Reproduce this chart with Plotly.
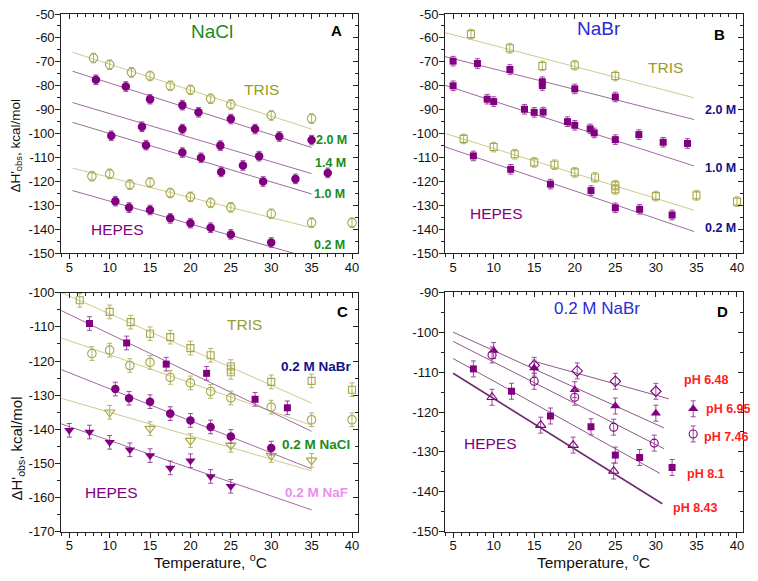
import plotly.graph_objects as go

W, H = 758, 581
OFF = 8  # the page body margin shifts the figure by this many px
FONT = "Arial, Liberation Sans, sans-serif"

# ---------------- data ----------------
x_ticks = [5, 10, 15, 20, 25, 30, 35, 40]
y_ticks_AB = [-150, -140, -130, -120, -110, -100, -90, -80, -70, -60, -50]
y_ticks_C = [-170, -160, -150, -140, -130, -120, -110, -100]
y_ticks_D = [-150, -140, -130, -120, -110, -100, -90]

# Panel A : NaCl
A_tris20_T = [8.0, 10, 12.7, 15, 17.5, 20, 22.5, 25, 30, 35]
A_tris20 = [-68.4, -71.2, -74.4, -75.9, -80.0, -81.7, -85.4, -87.8, -92.4, -93.7]
A_hep20_T = [8.3, 12, 15, 19, 21, 25, 28, 31, 35]
A_hep20 = [-77.5, -80.3, -85.6, -88.1, -91.1, -93.9, -98.1, -101.2, -102.7]
A_hep14_T = [14, 19, 23.7, 26.5, 28.5, 37]
A_hep14 = [-97.1, -98.1, -105.0, -113.3, -109.4, -116.4]
A_hep10_T = [10.2, 14.5, 19, 21.3, 23.8, 29, 33]
A_hep10 = [-100.9, -104.8, -107.9, -110.1, -116.0, -120.0, -118.9]
A_tris02_T = [7.8, 10, 12.5, 15, 17.5, 20, 22.5, 25, 30, 35, 40]
A_tris02 = [-117.8, -116.8, -121.3, -120.4, -124.8, -126.4, -128.9, -130.8, -133.5, -137.2, -137.2]
A_hep02_T = [10.7, 12.4, 15, 17.5, 20, 22.5, 25, 30]
A_hep02 = [-128.2, -130.9, -131.9, -135.4, -137.4, -139.3, -142.1, -145.5]
A_fit_T = [5.4, 35]
A_fit_tris20 = [-66.0, -98.1]
A_fit_hep20 = [-73.9, -105.8]
A_fit_hep14 = [-87.0, -116.7]
A_fit_hep10 = [-95.3, -125.2]
A_fit_tris02 = [-114.4, -139.3]
A_fit_hep02 = [-123.8, -152.1]

# Panel B : NaBr
B_tris20_T = [7.2, 12, 16, 20, 25]
B_tris20 = [-58.4, -64.3, -71.7, -71.4, -75.9]
B_hep20_T = [5, 8, 12, 16, 16, 20, 25]
B_hep20 = [-69.7, -70.7, -73.2, -78.3, -79.9, -81.3, -84.7]
B_hep10_T = [5, 9.2, 10, 13.8, 15, 16.1, 19.1, 20, 21.9, 22.4, 25, 27.9, 30.9, 33.9]
B_hep10 = [-80.0, -85.6, -86.6, -89.8, -91.1, -91.0, -95.0, -96.5, -98.0, -99.7, -102.5, -100.4, -103.6, -104.1]
B_tris02_T = [6.3, 10, 12.6, 15, 17.5, 20, 22.5, 25, 25, 30, 35, 40]
B_tris02 = [-102.2, -105.6, -108.6, -112.0, -113.0, -116.2, -118.3, -121.6, -123.3, -126.1, -125.8, -128.4]
B_hep02_T = [7.5, 12.1, 17, 22, 25, 28, 32]
B_hep02 = [-109.3, -114.9, -121.1, -123.8, -131.0, -131.6, -134.0]
B_fit_T = [4.0, 34.7]
B_fit_tris20 = [-57.8, -85.0]
B_fit_hep20 = [-67.8, -94.1]
B_fit_hep10 = [-79.8, -113.5]
B_fit_tris02 = [-99.9, -132.0]
B_fit_hep02 = [-105.5, -140.9]

# Panel C : 0.2 M salts
C_hepBr_T = [7.5, 12.1, 17, 22, 28, 32]
C_hepBr = [-109.0, -114.7, -120.9, -123.6, -131.2, -133.7]
C_trisF_T = [10, 15, 20, 25, 30, 35]
C_trisF = [-135.0, -139.8, -143.3, -144.7, -147.7, -149.1]
C_hepF_T = [5, 7.5, 10, 12.5, 15, 17.5, 20, 22.5, 25]
C_hepF = [-140.3, -140.8, -143.8, -146.0, -147.7, -151.3, -149.2, -153.8, -156.7]
C_fit_T = [4.0, 35]
C_fit_trisBr = [-99.9, -132.3]
C_fit_hepBr = [-105.2, -140.6]
C_fit_trisCl = [-113.2, -138.8]
C_fit_hepCl = [-122.5, -151.6]
C_fit_trisF = [-130.9, -152.2]
C_fit_hepF = [-138.4, -163.6]

# Panel D : 0.2 M NaBr, HEPES at several pH
D_648_T = [15, 20.3, 25, 30]
D_648 = [-108.3, -109.7, -112.3, -114.8]
D_695_T = [10, 15, 20, 25, 30]
D_695 = [-104.6, -109.0, -114.4, -118.5, -120.3]
D_746_T = [9.8, 15, 20, 24.8, 29.8]
D_746 = [-105.7, -112.3, -116.3, -123.8, -127.8]
D_81_T = [7.5, 12.2, 17, 22, 25, 28, 32]
D_81 = [-109.2, -114.8, -121.0, -123.7, -130.8, -131.4, -133.9]
D_843_T = [9.8, 15.8, 19.8, 24.8]
D_843 = [-116.3, -123.3, -128.3, -134.8]
D_key_T = [34.6]
D_key_695 = [-119.2]
D_key_746 = [-125.5]
D_fit_648_T = [15, 31.6]
D_fit_648 = [-107.3, -116.7]
D_fit_695_T = [5, 31]
D_fit_695 = [-100.0, -124.0]
D_fit_746_T = [5, 31]
D_fit_746 = [-102.3, -129.2]
D_fit_81_T = [5, 30.5]
D_fit_81 = [-106.6, -135.4]
D_fit_843_T = [5, 30.8]
D_fit_843 = [-110.3, -143.0]

ERR = 2.0

# ---------------- styles ----------------
PURPLE = "#800080"
PURPLE_ERR = "#9a4a9a"
PURPLE_LINE = "#a06aa0"
D_LINE = "#8a5a8a"
OLIVE_MK = "#a6a64c"
OLIVE_ERR = "#b4b468"
OLIVE_LINE = "#cbcb8e"
OLIVE_TEXT = "#9a9a2e"
GREEN = "#1a8c1a"
BLUE = "#2a2ad6"
NAVY = "#12128a"
PINK = "#f08cf0"
RED = "#ff2020"

fig = go.Figure()

XR = [4.0, 40.78]
panels = {
    1: dict(x=(61.2, 358.3), y=(14.0, 253.3), yr=[-150, -50], yt=y_ticks_AB),
    2: dict(x=(445.0, 743.3), y=(14.0, 253.3), yr=[-150, -50], yt=y_ticks_AB),
    3: dict(x=(61.2, 358.3), y=(292.8, 531.7), yr=[-170, -100], yt=y_ticks_C),
    4: dict(x=(445.0, 743.3), y=(292.3, 531.7), yr=[-150, -90], yt=y_ticks_D),
}


def fx(px):
    return (px - OFF) / W


def fy(py):
    return 1 - (py - OFF) / H


def ax(i, base):
    return base if i == 1 else f"{base}{i}"


def pts(p, xs, ys, symbol, color, errcolor, size=8, open_=False):
    fig.add_trace(go.Scatter(
        x=xs, y=ys, mode="markers", xaxis=ax(p, "x"), yaxis=ax(p, "y"),
        marker=dict(symbol=symbol + ("-open" if open_ else ""), size=size, color=color,
                    line=dict(width=1.1 if open_ else 0, color=color)),
        error_y=dict(type="constant", value=ERR, color=errcolor, thickness=1, width=2.5),
        showlegend=False, hoverinfo="skip", cliponaxis=False))


def fit(p, xs, ys, color, width=1.0):
    fig.add_trace(go.Scatter(
        x=xs, y=ys, mode="lines", xaxis=ax(p, "x"), yaxis=ax(p, "y"),
        line=dict(color=color, width=width), showlegend=False, hoverinfo="skip"))


# Panel A
for ys in (A_fit_tris20, A_fit_tris02):
    fit(1, A_fit_T, ys, OLIVE_LINE)
for ys in (A_fit_hep20, A_fit_hep14, A_fit_hep10, A_fit_hep02):
    fit(1, A_fit_T, ys, PURPLE_LINE)
pts(1, A_tris20_T, A_tris20, "circle", OLIVE_MK, OLIVE_ERR, 8.5, True)
pts(1, A_tris02_T, A_tris02, "circle", OLIVE_MK, OLIVE_ERR, 8.5, True)
for xs, ys in ((A_hep20_T, A_hep20), (A_hep14_T, A_hep14), (A_hep10_T, A_hep10), (A_hep02_T, A_hep02)):
    pts(1, xs, ys, "circle", PURPLE, PURPLE_ERR, 8.5)

# Panel B
for ys in (B_fit_tris20, B_fit_tris02):
    fit(2, B_fit_T, ys, OLIVE_LINE)
for ys in (B_fit_hep20, B_fit_hep10, B_fit_hep02):
    fit(2, B_fit_T, ys, PURPLE_LINE)
pts(2, B_tris20_T, B_tris20, "square", OLIVE_MK, OLIVE_ERR, 7, True)
pts(2, B_tris02_T, B_tris02, "square", OLIVE_MK, OLIVE_ERR, 7, True)
for xs, ys in ((B_hep20_T, B_hep20), (B_hep10_T, B_hep10), (B_hep02_T, B_hep02)):
    pts(2, xs, ys, "square", PURPLE, PURPLE_ERR, 7)

# Panel C
for ys in (C_fit_trisBr, C_fit_trisCl, C_fit_trisF):
    fit(3, C_fit_T, ys, OLIVE_LINE)
for ys in (C_fit_hepBr, C_fit_hepCl, C_fit_hepF):
    fit(3, C_fit_T, ys, PURPLE_LINE)
pts(3, B_tris02_T, B_tris02, "square", OLIVE_MK, OLIVE_ERR, 7, True)
pts(3, A_tris02_T, A_tris02, "circle", OLIVE_MK, OLIVE_ERR, 8.5, True)
pts(3, C_trisF_T, C_trisF, "triangle-down", OLIVE_MK, OLIVE_ERR, 9, True)
pts(3, C_hepBr_T, C_hepBr, "square", PURPLE, PURPLE_ERR, 7)
pts(3, A_hep02_T, A_hep02, "circle", PURPLE, PURPLE_ERR, 8.5)
pts(3, C_hepF_T, C_hepF, "triangle-down", PURPLE, PURPLE_ERR, 9)

# Panel D
fit(4, D_fit_648_T, D_fit_648, D_LINE)
fit(4, D_fit_695_T, D_fit_695, D_LINE)
fit(4, D_fit_746_T, D_fit_746, D_LINE)
fit(4, D_fit_81_T, D_fit_81, D_LINE)
fit(4, D_fit_843_T, D_fit_843, "#6e2e6e", 1.6)
pts(4, D_648_T, D_648, "diamond", PURPLE, PURPLE_ERR, 8, True)
pts(4, D_695_T, D_695, "triangle-up", PURPLE, PURPLE_ERR, 9)
pts(4, D_746_T, D_746, "circle", PURPLE, PURPLE_ERR, 8, True)
pts(4, D_81_T, D_81, "square", PURPLE, PURPLE_ERR, 7)
pts(4, D_843_T, D_843, "triangle-up", PURPLE, PURPLE_ERR, 9, True)
pts(4, D_key_T, D_key_695, "triangle-up", PURPLE, PURPLE_ERR, 9)
pts(4, D_key_T, D_key_746, "circle", PURPLE, PURPLE_ERR, 8, True)

# ---------------- axes ----------------
layout = {}
for i, p in panels.items():
    xd = [fx(p["x"][0]), fx(p["x"][1])]
    yd = [fy(p["y"][1]), fy(p["y"][0])]
    common = dict(showgrid=False, zeroline=False, showline=True, linecolor="#222",
                  linewidth=1, tickcolor="#222", tickwidth=1, automargin=False)
    layout[ax(i, "xaxis")] = dict(
        domain=xd, range=XR, anchor=ax(i, "y"), ticks="outside", ticklen=5,
        tickmode="array", tickvals=x_ticks, ticktext=[str(v) for v in x_ticks],
        ticklabelstandoff=-3, ticklabeloverflow="allow",
        minor=dict(ticks="outside", ticklen=3, tickmode="linear", tick0=5, dtick=1, tickcolor="#222"),
        tickfont=dict(family=FONT, size=13, color="#111"), mirror=True, **common)
    layout[ax(i, "yaxis")] = dict(
        domain=yd, range=p["yr"], anchor=ax(i, "x"), ticks="outside", ticklen=5,
        tickmode="array", tickvals=p["yt"], ticktext=[str(v) for v in p["yt"]],
        ticklabelstandoff=-2, ticklabeloverflow="allow",
        minor=dict(ticks="outside", ticklen=3, tickmode="linear", tick0=-150, dtick=5, tickcolor="#222"),
        tickfont=dict(family=FONT, size=13, color="#111"), mirror=True, **common)
    j = i + 4
    layout[f"xaxis{j}"] = dict(
        overlaying=ax(i, "x"), anchor=ax(i, "y"), side="top", range=XR, ticks="inside", ticklen=5,
        tickmode="array", tickvals=x_ticks, showticklabels=False,
        minor=dict(ticks="inside", ticklen=3, tickmode="linear", tick0=5, dtick=1, tickcolor="#222"),
        **common)
    layout[f"yaxis{j}"] = dict(
        overlaying=ax(i, "y"), anchor=ax(i, "x"), side="right", range=p["yr"], ticks="inside", ticklen=5,
        tickmode="array", tickvals=p["yt"], showticklabels=False,
        minor=dict(ticks="inside", ticklen=3, tickmode="linear", tick0=-150, dtick=5, tickcolor="#222"),
        **common)
    fig.add_trace(go.Scatter(x=[None], y=[None], xaxis=f"x{j}", yaxis=f"y{j}",
                             showlegend=False, hoverinfo="skip"))

# ---------------- annotations ----------------
ann = []


def txt(text, px, py, color, size, bold=False, angle=0):
    if bold:
        text = f"<b>{text}</b>"
    ann.append(dict(text=text, x=fx(px), y=fy(py), xref="paper", yref="paper",
                    xanchor="center", yanchor="middle", showarrow=False, textangle=angle,
                    font=dict(family=FONT, size=size, color=color)))


# A
txt("NaCl", 211.7, 31.5, GREEN, 19)
txt("A", 336.7, 30.7, "#000", 15, True)
txt("TRIS", 261, 89, OLIVE_TEXT, 15.5)
txt("HEPES", 117.7, 230, PURPLE, 15.5)
txt("2.0 M", 331.5, 140, GREEN, 12.5, True)
txt("1.4 M", 330, 163.3, GREEN, 12.5, True)
txt("1.0 M", 329.3, 194.3, GREEN, 12.5, True)
txt("0.2 M", 329.3, 245, GREEN, 12.5, True)
# B
txt("NaBr", 599, 28.3, BLUE, 19)
txt("B", 719, 35, "#000", 15, True)
txt("TRIS", 665, 67, OLIVE_TEXT, 15.5)
txt("HEPES", 496.7, 214, PURPLE, 15.5)
txt("2.0 M", 720, 110, NAVY, 12.5, True)
txt("1.0 M", 720, 168.3, NAVY, 12.5, True)
txt("0.2 M", 720, 228.3, NAVY, 12.5, True)
# C
txt("TRIS", 244.5, 324, OLIVE_TEXT, 15.5)
txt("C", 342, 311.7, "#000", 15, True)
txt("HEPES", 111.5, 492.5, PURPLE, 15.5)
txt("0.2 M NaBr", 316, 366, NAVY, 13.5, True)
txt("0.2 M NaCl", 316, 444.5, GREEN, 13.5, True)
txt("0.2 M NaF", 316, 492.5, PINK, 13.5, True)
# D
txt("0.2 M NaBr", 596.5, 308.5, BLUE, 17)
txt("D", 722, 311.7, "#000", 15, True)
txt("HEPES", 490, 443.3, PURPLE, 15.5)
txt("pH 6.48", 706, 380, RED, 12.5, True)
txt("pH 6.95", 728, 409.3, RED, 12.5, True)
txt("pH 7.46", 726, 437, RED, 12.5, True)
txt("pH 8.1", 706, 474, RED, 12.5, True)
txt("pH 8.43", 695.5, 508, RED, 12.5, True)
# axis titles
txt("Temperature, <sup>o</sup>C", 210, 561, "#111", 15.5)
txt("Temperature, <sup>o</sup>C", 593.3, 561, "#111", 15.5)
txt("ΔH'<sub>obs</sub>, kcal/mol", 16.5, 146, "#111", 13.5, angle=-90)
txt("ΔH'<sub>obs</sub>, kcal/mol", 16.5, 449, "#111", 15, angle=-90)

layout["annotations"] = ann
fig.update_layout(**layout)
fig.update_layout(width=W, height=H, margin=dict(l=0, r=0, t=0, b=0, pad=0),
                  paper_bgcolor="white", plot_bgcolor="white", showlegend=False,
                  font=dict(family=FONT))
fig.write_html("out.html")
